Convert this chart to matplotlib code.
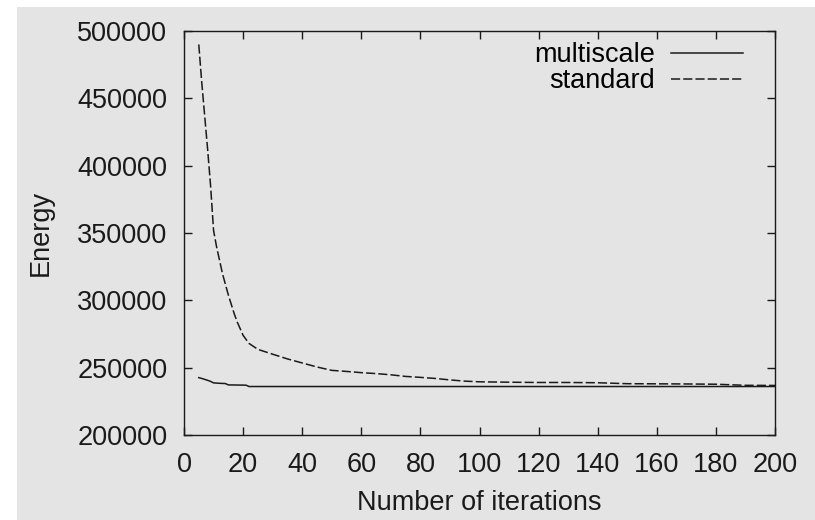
import matplotlib.pyplot as plt
import matplotlib.patches as mpatches

# data
iters_multi = [5, 6, 7, 8, 9, 10, 12, 14, 15, 18, 21, 22, 30, 50, 100, 150, 200]
energy_multi = [242600, 242000, 241300, 240600, 239800, 238700, 238400, 238200,
                237200, 237100, 237000, 236000, 236000, 236000, 236000, 236000, 236000]

iters_std = [5, 6, 7, 8, 9, 10, 11, 12, 13, 14, 15, 16, 17, 18, 19, 20, 22, 25,
             30, 35, 40, 45, 50, 55, 60, 65, 70, 75, 80, 85, 90, 95, 100, 110,
             120, 130, 140, 150, 160, 170, 180, 190, 200]
energy_std = [490000, 462000, 437000, 412000, 385000, 352000, 340000, 330000,
              320000, 312000, 304000, 297000, 290000, 284000, 279000, 274000,
              268000, 263600, 260000, 256500, 253500, 250500, 248000, 247200,
              246300, 245600, 244700, 243500, 242800, 242000, 240900, 240000,
              239500, 239200, 239000, 239000, 238800, 238100, 238000, 237900,
              237700, 236900, 236800]

bg = '#e4e4e4'
ink = '#1a1a1a'
fs = 19.5

plt.rcParams['font.family'] = ['Liberation Sans', 'DejaVu Sans']

fig = plt.figure(figsize=(8.15, 5.2), dpi=100)
fig.patch.set_facecolor('white')
# gray backdrop, leaving a thin white strip top and left like the original
fig.patches.append(mpatches.Rectangle((17 / 815, 0), 1, 1 - 7 / 520,
                                      transform=fig.transFigure,
                                      facecolor=bg, edgecolor='none', zorder=-10))

ax = fig.add_axes([184 / 815, 1 - 435 / 520, (775 - 184) / 815, (435 - 31) / 520])
ax.set_facecolor(bg)

ax.plot(iters_multi, energy_multi, color=ink, lw=1.1, label='multiscale')
ax.plot(iters_std, energy_std, color=ink, lw=1.1, dashes=(6.0, 2.0), label='standard')

ax.set_xlim(0, 200)
ax.set_ylim(200000, 500000)
ax.set_xticks(range(0, 201, 20))
ax.set_yticks(range(200000, 500001, 50000))

for s in ax.spines.values():
    s.set_linewidth(1.0)
    s.set_color(ink)

ax.tick_params(direction='in', length=6, width=1.0, color=ink,
               top=True, right=True, labelsize=fs, labelcolor=ink)
ax.tick_params(axis='x', pad=12)
ax.tick_params(axis='y', pad=12)

ax.set_xlabel('Number of iterations', fontsize=fs, color=ink, labelpad=9)
ax.set_ylabel('Energy', fontsize=fs, color=ink, labelpad=17)

ax.legend(loc='upper right', bbox_to_anchor=(1 - 16 / 591, 1 + 5 / 404),
          markerfirst=False, frameon=False, alignment='right',
          fontsize=fs, handlelength=2.65, handletextpad=0.6, labelspacing=0.0,
          borderaxespad=0.3, borderpad=0.3)

fig.savefig('out.png', dpi=100, facecolor=fig.get_facecolor())
